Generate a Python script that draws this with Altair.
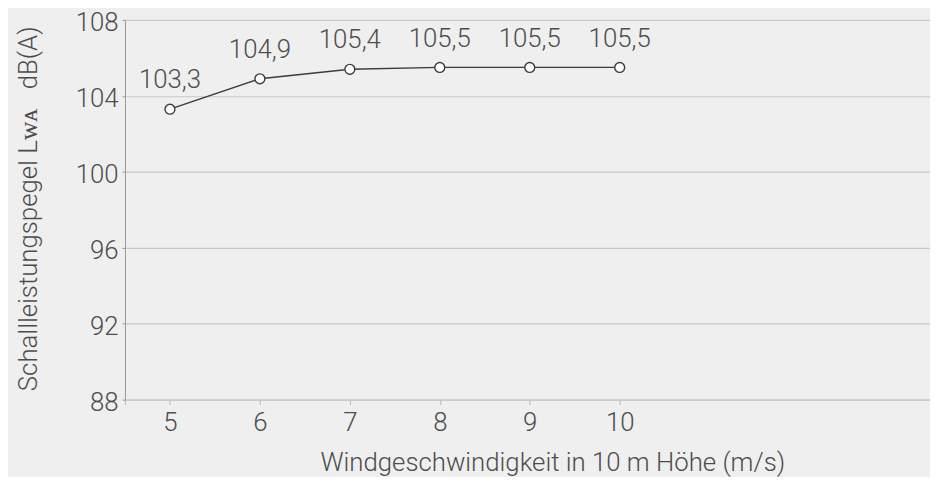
import altair as alt
import pandas as pd

wind = [5, 6, 7, 8, 9, 10]
level = [103.3, 104.9, 105.4, 105.5, 105.5, 105.5]
y_ticks = [88, 90, 92, 94, 96, 98, 100, 102, 104, 106, 108]
x_ticks = [4.5, 5, 6, 7, 8, 9, 10]

df = pd.DataFrame({
    "wind": wind,
    "level": level,
    "label": [f"{v:.1f}".replace(".", ",") for v in level],
})

FONT = "Roboto"
TXT = "#4d4d4d"
BG = "#efefef"
FS = 26

x = alt.X(
    "wind:Q",
    scale=alt.Scale(domain=[4.5, 13.45], nice=False, zero=False),
    axis=alt.Axis(
        values=x_ticks,
        labelExpr="datum.value == 4.5 ? '' : format(datum.value, 'd')",
        title="Windgeschwindigkeit in 10 m Höhe (m/s)",
        titleX=431, titleY=71, titleAlign="center", titleBaseline="alphabetic",
        grid=False, domainColor="#c4c4c4", tickColor="#b8b8b8", tickSize=5,
        labelPadding=5, labelFontSize=FS, titleFontSize=FS,
    ),
)
y = alt.Y(
    "level:Q",
    scale=alt.Scale(domain=[88, 108], nice=False, zero=False),
    axis=alt.Axis(
        values=y_ticks,
        labelExpr="datum.value % 4 == 0 ? datum.label : ''",
        title="Schallleistungspegel Lᴡᴀ\u2002 dB(A)",
        titleX=-89, titleY=190, titleAlign="center", titleBaseline="alphabetic",
        grid=True, gridColor="#c8c8c8", gridWidth=1.2,
        domainColor="#9a9a9a", tickColor="#9a9a9a", tickSize=3,
        labelPadding=4, labelBaseline="alphabetic", labelOffset=10.5,
        labelFontSize=FS, titleFontSize=FS,
    ),
)

base = alt.Chart(df)
line = base.mark_line(color="#3c3c3c", strokeWidth=1.4).encode(x=x, y=y)
pts = base.mark_point(filled=True, fill="white", stroke="#3c3c3c", strokeWidth=1.4,
                      size=100, opacity=1).encode(x="wind:Q", y="level:Q")
labels = base.mark_text(dy=-21, baseline="alphabetic", align="center",
                        font=FONT, fontSize=FS, fontWeight=300, color=TXT).encode(
    x="wind:Q", y="level:Q", text="label:N")

chart = (line + pts + labels).properties(
    width=812, height=383,
    autosize=alt.AutoSizeParams(type="none"),
    padding={"left": 118, "top": 10, "right": 0, "bottom": 76},
    background=BG,
).configure_view(stroke=None).configure_axis(
    labelFont=FONT, titleFont=FONT, labelColor=TXT, titleColor=TXT,
    labelFontWeight=300, titleFontWeight=300,
)

chart.save("out.html", embed_options={"renderer": "svg", "actions": False})
